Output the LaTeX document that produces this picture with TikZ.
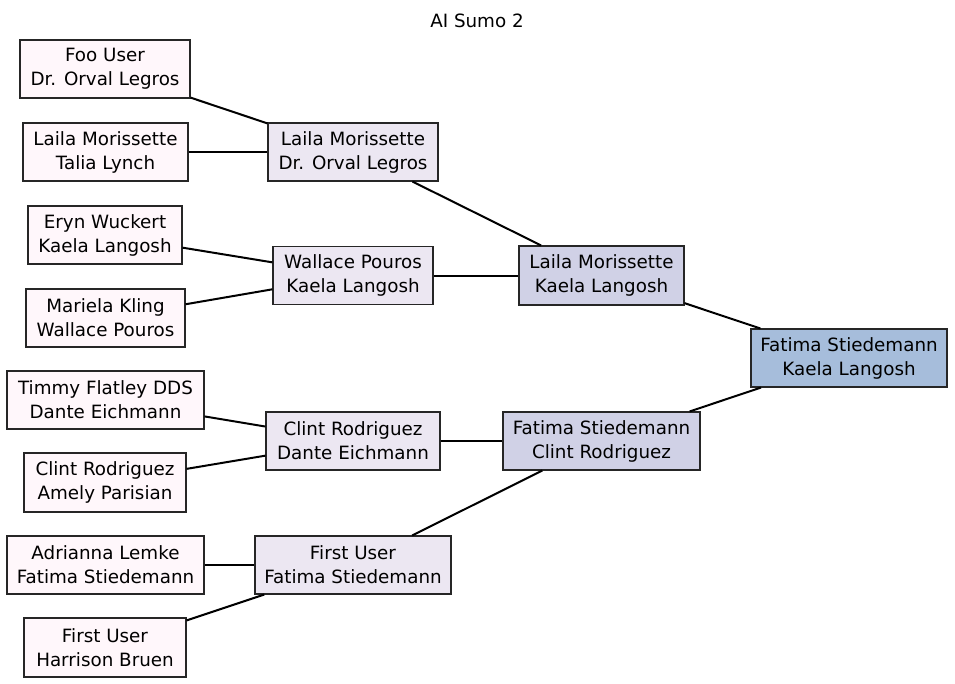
\documentclass[tikz,border=0pt]{standalone}
\usepackage{fontspec}
\setmainfont{DejaVu Sans}
\definecolor{lv1}{HTML}{FFF7FB}
\definecolor{lv2}{HTML}{ECE7F2}
\definecolor{lv3}{HTML}{D0D1E6}
\definecolor{lv4}{HTML}{A6BDDB}
\begin{document}
\begin{tikzpicture}[x=1pt,y=-1pt,
  box/.style={draw=black!85,line width=1.1pt,align=center,inner sep=0pt,
    font=\fontsize{18.3}{24}\selectfont},
  edge/.style={line width=2pt,draw=black}]
\useasboundingbox (0,0) rectangle (955,683);
\node[font=\fontsize{18.3}{24}\selectfont] (title) at (477,20.5) {AI Sumo 2};
% leaves
\node[box,fill=lv1,minimum width=170pt,minimum height=58pt] (l1) at (105,69) {Foo User\\Dr. Orval Legros};
\node[box,fill=lv1,minimum width=165pt,minimum height=58pt] (l2) at (105.5,152) {Laila Morissette\\Talia Lynch};
\node[box,fill=lv1,minimum width=154pt,minimum height=58pt] (l3) at (105,235) {Eryn Wuckert\\Kaela Langosh};
\node[box,fill=lv1,minimum width=159pt,minimum height=58pt] (l4) at (105.5,318) {Mariela Kling\\Wallace Pouros};
\node[box,fill=lv1,minimum width=197pt,minimum height=58pt] (l5) at (105.5,400) {Timmy Flatley DDS\\Dante Eichmann};
\node[box,fill=lv1,minimum width=162pt,minimum height=59pt] (l6) at (105,482.5) {Clint Rodriguez\\Amely Parisian};
\node[box,fill=lv1,minimum width=197pt,minimum height=58pt] (l7) at (105.5,565) {Adrianna Lemke\\Fatima Stiedemann};
\node[box,fill=lv1,minimum width=162pt,minimum height=59pt] (l8) at (105,647.5) {First User\\Harrison Bruen};
% level 2
\node[box,fill=lv2,minimum width=170pt,minimum height=58pt] (a) at (353,152) {Laila Morissette\\Dr. Orval Legros};
\node[box,fill=lv2,minimum width=160pt,minimum height=58pt] (b) at (353,275.5) {Wallace Pouros\\Kaela Langosh};
\node[box,fill=lv2,minimum width=174pt,minimum height=58pt] (c) at (353,441) {Clint Rodriguez\\Dante Eichmann};
\node[box,fill=lv2,minimum width=196pt,minimum height=58pt] (d) at (353,565) {First User\\Fatima Stiedemann};
% level 3
\node[box,fill=lv3,minimum width=165pt,minimum height=59pt] (e) at (601.5,275.5) {Laila Morissette\\Kaela Langosh};
\node[box,fill=lv3,minimum width=197pt,minimum height=58pt] (f) at (601.5,441) {Fatima Stiedemann\\Clint Rodriguez};
% root
\node[box,fill=lv4,minimum width=196pt,minimum height=58pt] (g) at (849,358) {Fatima Stiedemann\\Kaela Langosh};
% edges
\draw[edge] (l1) -- (a);
\draw[edge] (l2) -- (a);
\draw[edge] (l3) -- (b);
\draw[edge] (l4) -- (b);
\draw[edge] (l5) -- (c);
\draw[edge] (l6) -- (c);
\draw[edge] (l7) -- (d);
\draw[edge] (l8) -- (d);
\draw[edge] (a) -- (e);
\draw[edge] (b) -- (e);
\draw[edge] (c) -- (f);
\draw[edge] (d) -- (f);
\draw[edge] (e) -- (g);
\draw[edge] (f) -- (g);
\end{tikzpicture}
\end{document}
